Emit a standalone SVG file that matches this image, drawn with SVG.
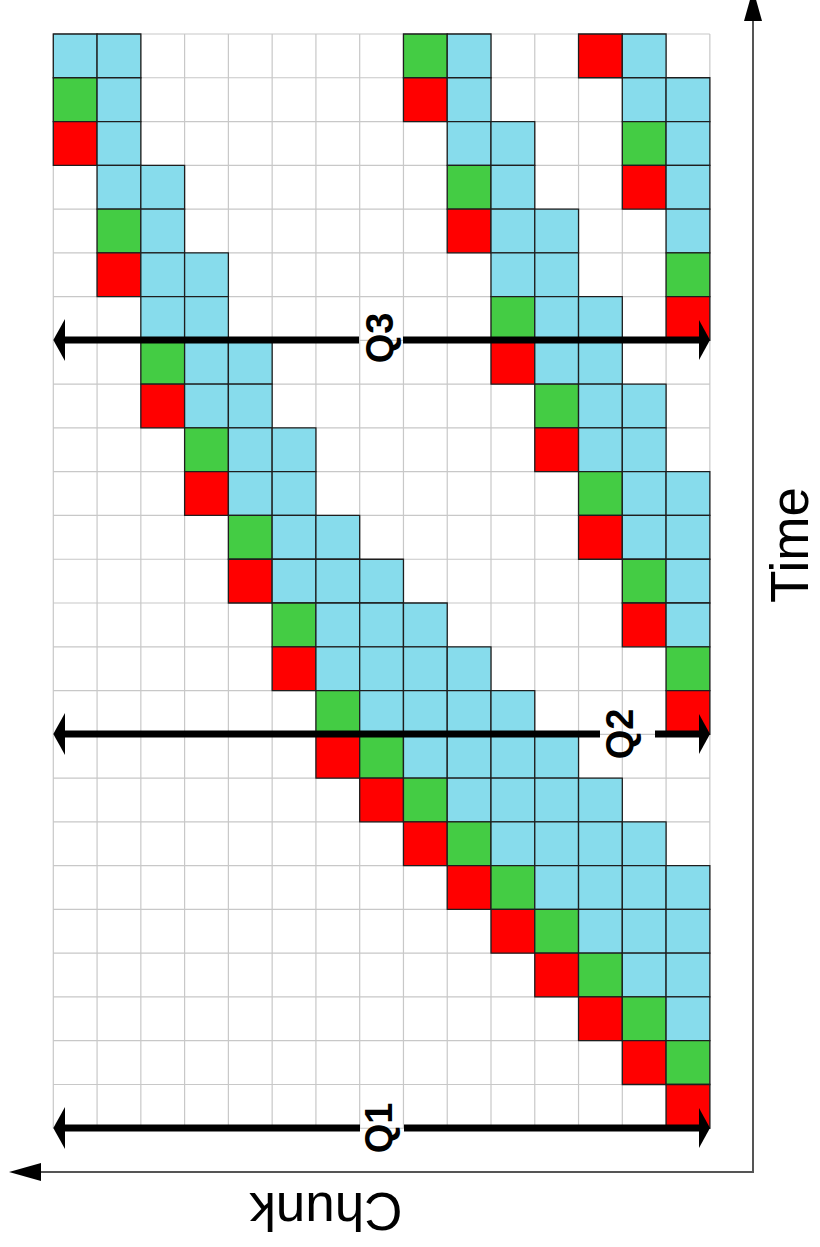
<svg xmlns="http://www.w3.org/2000/svg" width="820" height="1247" viewBox="0 0 820 1247">
<style>
.grid{fill:none;stroke:#c8c8c8;stroke-width:1.2;vector-effect:non-scaling-stroke}
.b,.g,.r{stroke:#1e1e1e;stroke-width:1.3;vector-effect:non-scaling-stroke}
.b{fill:#87dcec}
.g{fill:#44cc44}
.r{fill:#ff0000}
.q{stroke:#000;stroke-width:7;fill:none}
.qh{fill:#000}
.ax{stroke:#555;stroke-width:2;fill:none}
.axh{fill:#000}
.ql{font-family:"Liberation Sans",Arial,sans-serif;font-weight:bold;font-size:38px;fill:#000}
.al{font-family:"Liberation Sans",Arial,sans-serif;font-size:53px;fill:#000}
</style>
<rect width="820" height="1247" fill="#fff"/>
<g transform="translate(53.3 34) scale(43.77)">
<path class="grid" d="M0 0V25M1 0V25M2 0V25M3 0V25M4 0V25M5 0V25M6 0V25M7 0V25M8 0V25M9 0V25M10 0V25M11 0V25M12 0V25M13 0V25M14 0V25M15 0V25M0 0H15M0 1H15M0 2H15M0 3H15M0 4H15M0 5H15M0 6H15M0 7H15M0 8H15M0 9H15M0 10H15M0 11H15M0 12H15M0 13H15M0 14H15M0 15H15M0 16H15M0 17H15M0 18H15M0 19H15M0 20H15M0 21H15M0 22H15M0 23H15M0 24H15M0 25H15"/>
<g id="stream1">
<g id="s1-c0"><rect class="b" x="0" y="0" width="1" height="1"/><rect class="g" x="0" y="1" width="1" height="1"/><rect class="r" x="0" y="2" width="1" height="1"/></g>
<g id="s1-c1"><rect class="b" x="1" y="0" width="1" height="1"/><rect class="b" x="1" y="1" width="1" height="1"/><rect class="b" x="1" y="2" width="1" height="1"/><rect class="b" x="1" y="3" width="1" height="1"/><rect class="g" x="1" y="4" width="1" height="1"/><rect class="r" x="1" y="5" width="1" height="1"/></g>
<g id="s1-c2"><rect class="b" x="2" y="3" width="1" height="1"/><rect class="b" x="2" y="4" width="1" height="1"/><rect class="b" x="2" y="5" width="1" height="1"/><rect class="b" x="2" y="6" width="1" height="1"/><rect class="g" x="2" y="7" width="1" height="1"/><rect class="r" x="2" y="8" width="1" height="1"/></g>
<g id="s1-c3"><rect class="b" x="3" y="5" width="1" height="1"/><rect class="b" x="3" y="6" width="1" height="1"/><rect class="b" x="3" y="7" width="1" height="1"/><rect class="b" x="3" y="8" width="1" height="1"/><rect class="g" x="3" y="9" width="1" height="1"/><rect class="r" x="3" y="10" width="1" height="1"/></g>
<g id="s1-c4"><rect class="b" x="4" y="7" width="1" height="1"/><rect class="b" x="4" y="8" width="1" height="1"/><rect class="b" x="4" y="9" width="1" height="1"/><rect class="b" x="4" y="10" width="1" height="1"/><rect class="g" x="4" y="11" width="1" height="1"/><rect class="r" x="4" y="12" width="1" height="1"/></g>
<g id="s1-c5"><rect class="b" x="5" y="9" width="1" height="1"/><rect class="b" x="5" y="10" width="1" height="1"/><rect class="b" x="5" y="11" width="1" height="1"/><rect class="b" x="5" y="12" width="1" height="1"/><rect class="g" x="5" y="13" width="1" height="1"/><rect class="r" x="5" y="14" width="1" height="1"/></g>
<g id="s1-c6"><rect class="b" x="6" y="11" width="1" height="1"/><rect class="b" x="6" y="12" width="1" height="1"/><rect class="b" x="6" y="13" width="1" height="1"/><rect class="b" x="6" y="14" width="1" height="1"/><rect class="g" x="6" y="15" width="1" height="1"/><rect class="r" x="6" y="16" width="1" height="1"/></g>
<g id="s1-c7"><rect class="b" x="7" y="12" width="1" height="1"/><rect class="b" x="7" y="13" width="1" height="1"/><rect class="b" x="7" y="14" width="1" height="1"/><rect class="b" x="7" y="15" width="1" height="1"/><rect class="g" x="7" y="16" width="1" height="1"/><rect class="r" x="7" y="17" width="1" height="1"/></g>
<g id="s1-c8"><rect class="b" x="8" y="13" width="1" height="1"/><rect class="b" x="8" y="14" width="1" height="1"/><rect class="b" x="8" y="15" width="1" height="1"/><rect class="b" x="8" y="16" width="1" height="1"/><rect class="g" x="8" y="17" width="1" height="1"/><rect class="r" x="8" y="18" width="1" height="1"/></g>
<g id="s1-c9"><rect class="b" x="9" y="14" width="1" height="1"/><rect class="b" x="9" y="15" width="1" height="1"/><rect class="b" x="9" y="16" width="1" height="1"/><rect class="b" x="9" y="17" width="1" height="1"/><rect class="g" x="9" y="18" width="1" height="1"/><rect class="r" x="9" y="19" width="1" height="1"/></g>
<g id="s1-c10"><rect class="b" x="10" y="15" width="1" height="1"/><rect class="b" x="10" y="16" width="1" height="1"/><rect class="b" x="10" y="17" width="1" height="1"/><rect class="b" x="10" y="18" width="1" height="1"/><rect class="g" x="10" y="19" width="1" height="1"/><rect class="r" x="10" y="20" width="1" height="1"/></g>
<g id="s1-c11"><rect class="b" x="11" y="16" width="1" height="1"/><rect class="b" x="11" y="17" width="1" height="1"/><rect class="b" x="11" y="18" width="1" height="1"/><rect class="b" x="11" y="19" width="1" height="1"/><rect class="g" x="11" y="20" width="1" height="1"/><rect class="r" x="11" y="21" width="1" height="1"/></g>
<g id="s1-c12"><rect class="b" x="12" y="17" width="1" height="1"/><rect class="b" x="12" y="18" width="1" height="1"/><rect class="b" x="12" y="19" width="1" height="1"/><rect class="b" x="12" y="20" width="1" height="1"/><rect class="g" x="12" y="21" width="1" height="1"/><rect class="r" x="12" y="22" width="1" height="1"/></g>
<g id="s1-c13"><rect class="b" x="13" y="18" width="1" height="1"/><rect class="b" x="13" y="19" width="1" height="1"/><rect class="b" x="13" y="20" width="1" height="1"/><rect class="b" x="13" y="21" width="1" height="1"/><rect class="g" x="13" y="22" width="1" height="1"/><rect class="r" x="13" y="23" width="1" height="1"/></g>
<g id="s1-c14"><rect class="b" x="14" y="19" width="1" height="1"/><rect class="b" x="14" y="20" width="1" height="1"/><rect class="b" x="14" y="21" width="1" height="1"/><rect class="b" x="14" y="22" width="1" height="1"/><rect class="g" x="14" y="23" width="1" height="1"/><rect class="r" x="14" y="24" width="1" height="1"/></g>
</g>
<g id="stream2">
<g id="s2-c8"><rect class="g" x="8" y="0" width="1" height="1"/><rect class="r" x="8" y="1" width="1" height="1"/></g>
<g id="s2-c9"><rect class="b" x="9" y="0" width="1" height="1"/><rect class="b" x="9" y="1" width="1" height="1"/><rect class="b" x="9" y="2" width="1" height="1"/><rect class="g" x="9" y="3" width="1" height="1"/><rect class="r" x="9" y="4" width="1" height="1"/></g>
<g id="s2-c10"><rect class="b" x="10" y="2" width="1" height="1"/><rect class="b" x="10" y="3" width="1" height="1"/><rect class="b" x="10" y="4" width="1" height="1"/><rect class="b" x="10" y="5" width="1" height="1"/><rect class="g" x="10" y="6" width="1" height="1"/><rect class="r" x="10" y="7" width="1" height="1"/></g>
<g id="s2-c11"><rect class="b" x="11" y="4" width="1" height="1"/><rect class="b" x="11" y="5" width="1" height="1"/><rect class="b" x="11" y="6" width="1" height="1"/><rect class="b" x="11" y="7" width="1" height="1"/><rect class="g" x="11" y="8" width="1" height="1"/><rect class="r" x="11" y="9" width="1" height="1"/></g>
<g id="s2-c12"><rect class="b" x="12" y="6" width="1" height="1"/><rect class="b" x="12" y="7" width="1" height="1"/><rect class="b" x="12" y="8" width="1" height="1"/><rect class="b" x="12" y="9" width="1" height="1"/><rect class="g" x="12" y="10" width="1" height="1"/><rect class="r" x="12" y="11" width="1" height="1"/></g>
<g id="s2-c13"><rect class="b" x="13" y="8" width="1" height="1"/><rect class="b" x="13" y="9" width="1" height="1"/><rect class="b" x="13" y="10" width="1" height="1"/><rect class="b" x="13" y="11" width="1" height="1"/><rect class="g" x="13" y="12" width="1" height="1"/><rect class="r" x="13" y="13" width="1" height="1"/></g>
<g id="s2-c14"><rect class="b" x="14" y="10" width="1" height="1"/><rect class="b" x="14" y="11" width="1" height="1"/><rect class="b" x="14" y="12" width="1" height="1"/><rect class="b" x="14" y="13" width="1" height="1"/><rect class="g" x="14" y="14" width="1" height="1"/><rect class="r" x="14" y="15" width="1" height="1"/></g>
</g>
<g id="stream3">
<g id="s3-c12"><rect class="r" x="12" y="0" width="1" height="1"/></g>
<g id="s3-c13"><rect class="b" x="13" y="0" width="1" height="1"/><rect class="b" x="13" y="1" width="1" height="1"/><rect class="g" x="13" y="2" width="1" height="1"/><rect class="r" x="13" y="3" width="1" height="1"/></g>
<g id="s3-c14"><rect class="b" x="14" y="1" width="1" height="1"/><rect class="b" x="14" y="2" width="1" height="1"/><rect class="b" x="14" y="3" width="1" height="1"/><rect class="b" x="14" y="4" width="1" height="1"/><rect class="g" x="14" y="5" width="1" height="1"/><rect class="r" x="14" y="6" width="1" height="1"/></g>
</g>
</g>
<g id="connectors">
<g id="axes">
<path class="ax" d="M753 21V1172H40"/>
<polygon class="axh" points="753,-11 744,21 762,21"/>
<polygon class="axh" points="9,1172 41,1163 41,1181"/>
</g>
<g id="Q1-arrow">
<path class="q" d="M60 1128H360M404 1128H703"/>
<polygon class="qh" points="53.3,1128 65,1107 65,1149"/>
<polygon class="qh" points="710,1128 699,1108 699,1148"/>
</g>
<g id="Q2-arrow">
<path class="q" d="M60 734H600M655 734H703"/>
<polygon class="qh" points="53.3,734 65,713 65,755"/>
<polygon class="qh" points="710,734 699,714 699,754"/>
</g>
<g id="Q3-arrow">
<path class="q" d="M60 340H359M403 340H703"/>
<polygon class="qh" points="53.3,340 65,319 65,361"/>
<polygon class="qh" points="710,340 699,320 699,360"/>
</g>
</g>
<g id="labels">
<text class="ql" text-anchor="middle" transform="translate(392 1128) rotate(-90)">Q1</text>
<text class="ql" text-anchor="middle" transform="translate(633 734) rotate(-90)">Q2</text>
<text class="ql" text-anchor="middle" transform="translate(393 338) rotate(-90)">Q3</text>
<text class="al" text-anchor="middle" transform="translate(808 545) rotate(-90)">Time</text>
<text class="al" text-anchor="middle" transform="translate(326 1193) rotate(180)">Chunk</text>
</g>
</svg>
